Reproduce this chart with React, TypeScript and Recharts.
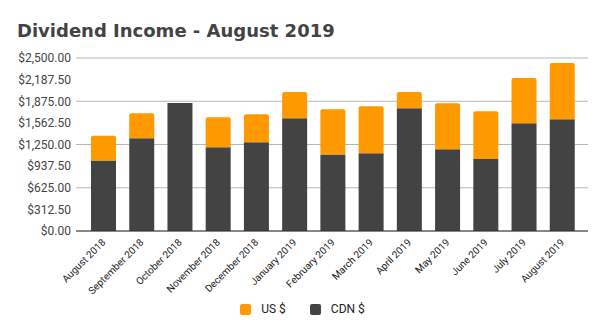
import React from "react";
import { BarChart, Bar, XAxis, YAxis, CartesianGrid, Legend } from "recharts";

const MONTHS = [
  "August 2018",
  "September 2018",
  "October 2018",
  "November 2018",
  "December 2018",
  "January 2019",
  "February 2019",
  "March 2019",
  "April 2019",
  "May 2019",
  "June 2019",
  "July 2019",
  "August 2019",
];
const CDN = [1020, 1339, 1851, 1209, 1281, 1629, 1107, 1122, 1775, 1180, 1039, 1557, 1615];
const US = [358, 363, 0, 435, 407, 378, 653, 682, 232, 667, 692, 653, 813];
const Y_TICKS = [0, 312.5, 625, 937.5, 1250, 1562.5, 1875, 2187.5, 2500];

const ORANGE = "#ff9900";
const DARK = "#434343";

const data = MONTHS.map((m, i) => ({ month: m, cdn: CDN[i], us: US[i] }));

const money = (v: number) =>
  "$" + v.toFixed(2).replace(/\B(?=(\d{3})+(?!\d))/g, ",");

// rotated month labels, end anchored at the tick
const MonthTick = ({ x, y, payload }: any) => (
  <g transform={`translate(${x + 3},${y + 12})`}>
    <text
      x={0}
      y={0}
      transform="rotate(-45)"
      textAnchor="end"
      fontSize={10}
      fontFamily="Roboto"
      fill="#222"
    >
      {payload.value}
    </text>
  </g>
);

const LegendBox = () => (
  <div
    style={{
      display: "flex",
      justifyContent: "center",
      gap: 24,
      fontFamily: "Roboto",
      fontSize: 12,
      color: "#222",
    }}
  >
    {[
      { label: "US $", color: ORANGE },
      { label: "CDN $", color: DARK },
    ].map((it) => (
      <span key={it.label} style={{ display: "flex", alignItems: "center" }}>
        <span
          style={{
            width: 11,
            height: 11,
            borderRadius: 2,
            background: it.color,
            marginRight: 10,
            display: "inline-block",
          }}
        />
        {it.label}
      </span>
    ))}
  </div>
);

export default function App() {
  return (
    <div style={{ position: "absolute", left: 0, top: 0, width: 605, height: 335, background: "#fff" }}>
      <div
        style={{
          position: "absolute",
          left: 17,
          top: 21,
          fontFamily: "DejaVu Sans",
          fontWeight: "bold",
          fontSize: 18,
          lineHeight: "20px",
          color: "#434343",
          zIndex: 2,
        }}
      >
        Dividend Income - August 2019
      </div>
      <BarChart
        width={605}
        height={335}
        data={data}
        margin={{ top: 58, right: 17, left: 0, bottom: 0 }}
      >
        <CartesianGrid vertical={false} stroke="#b7b7b7" />
        <XAxis
          dataKey="month"
          interval={0}
          tick={<MonthTick />}
          tickLine={false}
          tickSize={0}
          tickMargin={0}
          axisLine={{ stroke: "#333" }}
          padding={{ left: 8, right: 7 }}
          height={90}
        />
        <YAxis
          domain={[0, 2500]}
          ticks={Y_TICKS}
          tickFormatter={money}
          width={76}
          tickSize={0}
          tickMargin={5}
          axisLine={false}
          tickLine={false}
          tick={{ fontSize: 12, fontFamily: "Roboto", fill: "#444" }}
        />
        <Legend
          content={<LegendBox />}
          wrapperStyle={{ position: "absolute", top: 302, left: 0, width: 605 }}
        />
        <Bar dataKey="cdn" name="CDN $" stackId="a" fill={DARK} barSize={25} isAnimationActive={false} />
        <Bar
          dataKey="us"
          name="US $"
          stackId="a"
          fill={ORANGE}
          barSize={25}
          radius={[2, 2, 0, 0]}
          isAnimationActive={false}
        />
      </BarChart>
    </div>
  );
}
